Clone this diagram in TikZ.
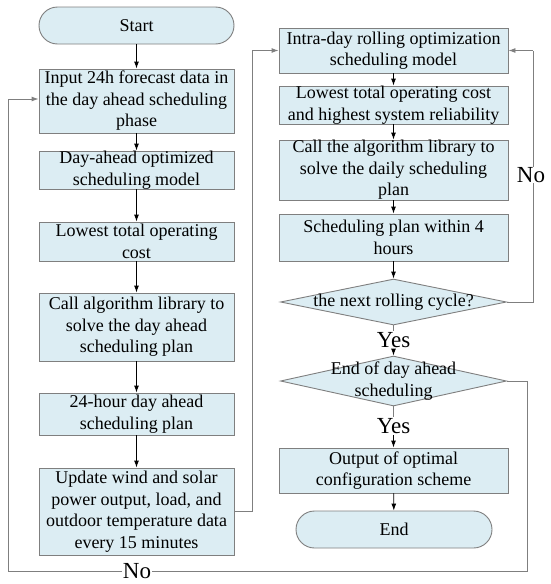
\documentclass[tikz,border=0pt]{standalone}
\usepackage{fontspec}
\setmainfont{Liberation Serif}
\usetikzlibrary{shapes.geometric,arrows.meta}
\definecolor{boxfill}{HTML}{DCEDF3}
\definecolor{boxline}{HTML}{7F7F7F}
\tikzset{
  box/.style={draw=boxline, fill=boxfill, line width=0.9pt, rectangle, inner sep=0pt, align=center,
    font=\fontsize{18}{21.5}\selectfont},
  term/.style={box, rounded corners=18.5pt},
  dia/.style={draw=boxline, fill=boxfill, line width=0.9pt, diamond, inner sep=0pt, aspect=4.9,
    minimum width=226pt, minimum height=47pt},
  flow/.style={line width=0.9pt, -{Latex[length=7pt,width=5pt]}},
  loop/.style={draw=boxline, line width=0.9pt},
  big/.style={font=\fontsize{23}{25}\selectfont, inner sep=1pt},
}
\begin{document}
\begin{tikzpicture}[x=1pt,y=-1pt]
\useasboundingbox (0,0) rectangle (550,584);
% left column
\node[term, minimum width=195pt, minimum height=37pt] (start) at (136.5,25.5) {Start};
\node[box, minimum width=195pt, minimum height=64pt] (input) at (136.5,101) {Input 24h forecast data in\\the day ahead scheduling\\phase};
\node[box, minimum width=195pt, minimum height=38pt] (dam) at (136.5,170) {Day-ahead optimized\\scheduling model};
\node[box, minimum width=195pt, minimum height=39pt] (low) at (136.5,241.5) {Lowest total operating\\cost};
\node[box, minimum width=195pt, minimum height=68pt] (call) at (136.5,327) {Call algorithm library to\\solve the day ahead\\scheduling plan};
\node[box, minimum width=195pt, minimum height=42pt] (plan) at (136.5,414) {24-hour day ahead\\scheduling plan};
\node[box, minimum width=195pt, minimum height=87pt] (upd) at (136.5,511.5) {Update wind and solar\\power output, load, and\\outdoor temperature data\\every 15 minutes};
% right column
\node[box, minimum width=229pt, minimum height=45pt] (intra) at (393.5,50.5) {Intra-day rolling optimization\\scheduling model};
\node[box, minimum width=229pt, minimum height=38pt] (low2) at (393.5,105) {Lowest total operating cost\\and highest system reliability};
\node[box, minimum width=229pt, minimum height=60pt] (call2) at (393.5,170) {Call the algorithm library to\\solve the daily scheduling\\plan};
\node[box, minimum width=229pt, minimum height=47pt] (sched) at (393.5,237.5) {Scheduling plan within 4\\hours};
\node[dia, minimum height=46pt, label={[box, draw=none, fill=none]center:the next rolling cycle?}] (d1) at (393.5,302) {};
\node[dia, minimum height=50pt, label={[box, draw=none, fill=none]center:End of day ahead\\scheduling}] (d2) at (393.5,381) {};
\node[box, minimum width=229pt, minimum height=45pt] (out) at (393.5,470.5) {Output of optimal\\configuration scheme};
\node[term, minimum width=196pt, minimum height=37pt] (end) at (394,529.5) {End};
% labels
\node[big] (yes1) at (393.5,340) {Yes};
\node[big] (yes2) at (393.5,426) {Yes};
% down arrows
\draw[flow] (start) -- (input);
\draw[flow] (input) -- (dam);
\draw[flow] (dam) -- (low);
\draw[flow] (low) -- (call);
\draw[flow] (call) -- (plan);
\draw[flow] (plan) -- (upd);
\draw[flow] (intra) -- (low2);
\draw[flow] (low2) -- (call2);
\draw[flow] (call2) -- (sched);
\draw[flow] (sched) -- (d1);
\draw[loop] (d1.south) -- (yes1.north);
\draw[flow] (yes1.south) -- (d2.north);
\draw[loop] (d2.south) -- (yes2.north);
\draw[flow] (yes2.south) -- (out);
\draw[flow] (out) -- (end);
% loops
\coordinate (ua) at (252,511.5);
\coordinate (ub) at (252,50.5);
\draw[loop] (upd.east) -- (ua) -- (ub);
\draw[flow, draw=boxline] (ub) -- (intra.west);
\coordinate (na) at (533,302);
\coordinate (nb) at (533,50.5);
\draw[loop] (d1.east) -- (na) -- (nb);
\draw[flow, draw=boxline] (nb) -- (intra.east);
\node[big, fill=white, inner sep=0pt] (no1) at (531,175) {No};
\coordinate (ea) at (527,381);
\coordinate (eb) at (527,571);
\coordinate (ec) at (8,571);
\coordinate (ed) at (8,99);
\coordinate (ee) at (input.west |- ed);
\draw[loop] (d2.east) -- (ea) -- (eb) -- (ec) -- (ed);
\draw[flow, draw=boxline] (ed) -- (ee);
\node[big, fill=white, inner sep=1pt] (no2) at (137,571) {No};
\end{tikzpicture}
\end{document}
